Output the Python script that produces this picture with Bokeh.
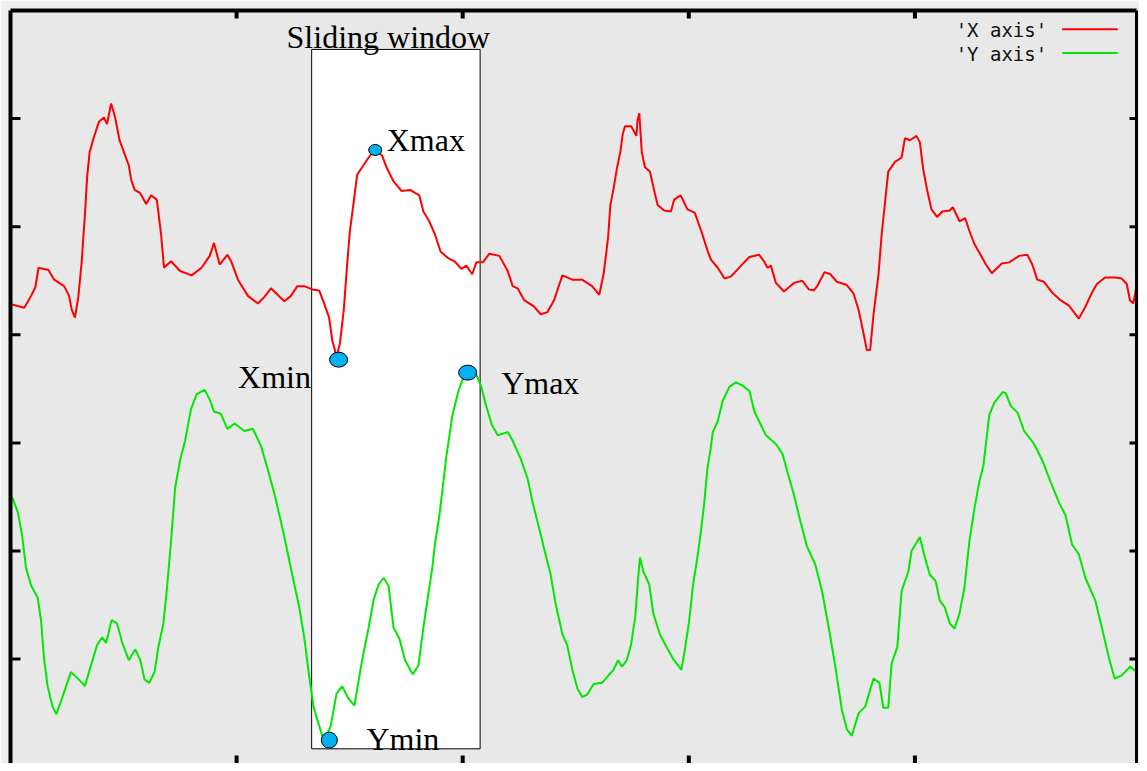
import math
from bokeh.plotting import figure
from bokeh.models import Range1d, LinearAxis, FixedTicker
from bokeh.core.properties import value
from bokeh.embed import file_html
from bokeh.resources import INLINE

# ---------------- data ----------------
x_axis_t = [0.7, 6.1, 9.1, 11.0, 12.4, 16.8, 19.3, 23.7, 25.9, 27.1,
            28.5, 30.0, 31.5, 32.9, 33.9, 35.0, 36.9, 39.1, 41.3, 42.7,
            44.5, 46.4, 48.2, 50.5, 52.3, 53.4, 54.9, 57.4, 60.0, 62.2,
            64.7, 66.6, 67.9, 71.0, 75.0, 80.1, 84.5, 88.1, 90.0, 92.5,
            95.9, 97.6, 100.6, 105.0, 109.4, 112.3, 115.2, 118.1, 121.1, 124.0,
            126.9, 129.9, 133.5, 136.5, 138.7, 140.9, 142.3, 144.2, 145.7, 147.4,
            148.9, 150.1, 151.8, 153.3, 155.5, 158.4, 161.3, 164.3, 166.5, 169.4,
            173.0, 176.7, 180.8, 182.6, 185.2, 187.7, 190.2, 193.5, 196.4, 199.4,
            201.6, 204.2, 206.0, 208.9, 211.8, 216.2, 219.9, 222.1, 224.3, 227.2,
            231.6, 234.5, 237.5, 240.4, 242.3, 244.1, 248.5, 252.8, 257.2, 260.4,
            262.3, 264.3, 265.3, 266.7, 268.2, 269.7, 270.8, 271.8, 274.5, 276.8,
            277.3, 278.1, 279.2, 280.6, 282.8, 284.3, 286.2, 289.1, 292.1, 293.5,
            296.4, 299.4, 302.6, 305.5, 308.4, 309.9, 312.8, 315.8, 318.7, 323.1,
            326.8, 331.1, 333.3, 334.8, 336.3, 338.5, 342.1, 346.5, 350.2, 353.1,
            355.3, 356.8, 360.0, 362.6, 365.5, 369.9, 372.9, 375.1, 377.3, 378.7,
            380.2, 381.7, 383.9, 385.3, 386.8, 388.2, 391.2, 394.1, 395.6, 397.8,
            400.7, 402.2, 403.6, 405.4, 407.3, 409.8, 412.1, 415.4, 416.8, 419.7,
            422.2, 424.1, 426.3, 428.5, 431.4, 434.0, 438.4, 441.7, 446.1, 449.7,
            451.9, 454.1, 457.1, 460.7, 464.4, 468.1, 472.5, 475.4, 478.3, 480.5,
            484.1, 488.5, 491.5, 493.7, 495.1, 496.6, 498.0]
x_axis_v = [4.28, 4.25, 4.36, 4.44, 4.62, 4.60, 4.51, 4.45, 4.36, 4.23,
            4.16, 4.35, 4.68, 5.11, 5.46, 5.69, 5.83, 5.97, 6.01, 5.95,
            6.14, 6.00, 5.80, 5.67, 5.57, 5.43, 5.34, 5.31, 5.21, 5.29,
            5.25, 4.93, 4.62, 4.68, 4.59, 4.55, 4.62, 4.73, 4.85, 4.65,
            4.74, 4.68, 4.51, 4.36, 4.29, 4.35, 4.43, 4.37, 4.31, 4.36,
            4.45, 4.45, 4.42, 4.41, 4.29, 4.16, 3.95, 3.80, 3.92, 4.23,
            4.65, 4.96, 5.23, 5.48, 5.55, 5.64, 5.72, 5.66, 5.54, 5.42,
            5.33, 5.34, 5.29, 5.14, 5.05, 4.93, 4.77, 4.71, 4.68, 4.61,
            4.64, 4.56, 4.67, 4.67, 4.75, 4.73, 4.59, 4.45, 4.43, 4.32,
            4.26, 4.19, 4.21, 4.32, 4.44, 4.55, 4.51, 4.51, 4.45, 4.37,
            4.56, 4.90, 5.20, 5.35, 5.54, 5.69, 5.86, 5.93, 5.93, 5.84,
            5.98, 6.05, 5.69, 5.55, 5.51, 5.37, 5.20, 5.15, 5.14, 5.25,
            5.29, 5.16, 5.13, 4.96, 4.77, 4.69, 4.62, 4.52, 4.54, 4.64,
            4.72, 4.74, 4.68, 4.62, 4.64, 4.48, 4.40, 4.48, 4.50, 4.42,
            4.41, 4.45, 4.58, 4.56, 4.49, 4.46, 4.38, 4.23, 4.01, 3.86,
            3.86, 4.19, 4.56, 4.93, 5.23, 5.51, 5.60, 5.64, 5.82, 5.80,
            5.84, 5.78, 5.54, 5.34, 5.16, 5.09, 5.14, 5.15, 5.18, 5.05,
            5.08, 4.96, 4.84, 4.76, 4.65, 4.57, 4.66, 4.67, 4.73, 4.74,
            4.65, 4.51, 4.49, 4.39, 4.32, 4.27, 4.15, 4.26, 4.39, 4.47,
            4.53, 4.53, 4.52, 4.47, 4.32, 4.29, 4.45]

y_axis_t = [0.7, 3.2, 5.1, 6.9, 9.1, 12.0, 13.5, 14.9, 16.4, 18.6,
            20.3, 23.0, 26.7, 30.3, 32.9, 35.0, 38.3, 40.5, 42.3, 44.7,
            47.1, 49.6, 52.3, 55.2, 57.4, 59.3, 61.4, 63.7, 65.4, 67.6,
            69.1, 71.0, 72.8, 75.0, 77.2, 79.8, 82.3, 85.9, 88.1, 90.0,
            93.0, 95.9, 99.1, 103.5, 107.2, 110.8, 113.7, 116.7, 120.3, 124.0,
            127.7, 129.9, 132.1, 134.0, 135.7, 137.9, 139.4, 141.6, 144.2, 146.7,
            149.3, 152.1, 155.5, 158.4, 160.6, 162.8, 165.0, 167.2, 169.4, 172.0,
            174.5, 177.9, 180.4, 182.6, 184.8, 186.7, 187.7, 189.7, 192.8, 195.4,
            198.1, 200.7, 202.5, 204.2, 206.0, 208.2, 210.4, 213.0, 215.5, 219.9,
            222.1, 225.7, 228.7, 230.9, 233.8, 235.9, 238.9, 241.1, 244.1, 246.2,
            248.5, 250.7, 252.8, 255.0, 257.9, 261.6, 264.5, 266.7, 268.7, 270.4,
            272.6, 274.5, 276.3, 277.7, 278.4, 279.9, 282.5, 284.3, 287.2, 290.2,
            293.1, 296.7, 298.2, 300.0, 301.9, 304.0, 305.5, 306.7, 308.2, 309.6,
            310.6, 312.8, 315.0, 318.0, 320.9, 323.8, 326.8, 329.0, 331.1, 334.1,
            338.5, 341.4, 343.6, 346.5, 349.4, 352.3, 356.0, 358.9, 361.9, 364.8,
            367.7, 369.9, 372.1, 375.1, 378.0, 381.7, 384.3, 386.0, 388.2, 389.7,
            392.2, 394.1, 397.1, 398.5, 402.2, 404.4, 406.6, 409.2, 411.0, 413.2,
            415.4, 417.5, 419.7, 421.9, 424.1, 426.3, 428.5, 430.3, 432.9, 435.1,
            438.8, 440.2, 442.4, 445.4, 448.3, 452.7, 456.3, 460.0, 463.7, 466.6,
            469.5, 472.5, 475.4, 479.8, 482.7, 485.7, 488.3, 491.5, 495.2, 498.1]
y_axis_v = [2.50, 2.36, 2.15, 1.84, 1.68, 1.57, 1.36, 0.99, 0.75, 0.56,
            0.49, 0.65, 0.88, 0.81, 0.75, 0.90, 1.13, 1.20, 1.15, 1.36,
            1.33, 1.14, 0.99, 1.09, 0.99, 0.81, 0.78, 0.88, 1.11, 1.33,
            1.63, 2.09, 2.58, 2.84, 3.02, 3.31, 3.45, 3.49, 3.40, 3.29,
            3.27, 3.13, 3.18, 3.11, 3.13, 2.97, 2.76, 2.53, 2.21, 1.84,
            1.48, 1.20, 0.84, 0.56, 0.44, 0.29, 0.27, 0.38, 0.68, 0.75,
            0.64, 0.57, 0.99, 1.29, 1.55, 1.69, 1.75, 1.68, 1.29, 1.19,
            0.99, 0.86, 0.94, 1.29, 1.60, 1.87, 2.06, 2.33, 2.88, 3.25,
            3.48, 3.63, 3.66, 3.67, 3.63, 3.52, 3.34, 3.16, 3.07, 3.10,
            3.02, 2.85, 2.67, 2.45, 2.21, 2.03, 1.78, 1.51, 1.23, 1.13,
            0.90, 0.73, 0.65, 0.67, 0.77, 0.78, 0.85, 0.90, 0.99, 0.93,
            0.99, 1.14, 1.39, 1.78, 1.94, 1.81, 1.69, 1.42, 1.23, 1.11,
            1.00, 0.90, 1.08, 1.33, 1.69, 1.97, 2.21, 2.42, 2.76, 2.94,
            3.10, 3.20, 3.39, 3.52, 3.56, 3.53, 3.48, 3.29, 3.20, 3.07,
            2.99, 2.90, 2.73, 2.52, 2.27, 2.04, 1.87, 1.63, 1.29, 0.93,
            0.53, 0.35, 0.29, 0.50, 0.56, 0.82, 0.78, 0.55, 0.55, 0.96,
            1.11, 1.63, 1.81, 2.00, 2.13, 1.94, 1.78, 1.72, 1.54, 1.48,
            1.33, 1.28, 1.42, 1.66, 2.09, 2.39, 2.64, 2.79, 3.26, 3.37,
            3.47, 3.46, 3.34, 3.28, 3.11, 2.99, 2.84, 2.64, 2.45, 2.33,
            2.06, 1.97, 1.75, 1.54, 1.29, 1.02, 0.82, 0.85, 0.93, 0.88]

# sliding window (sample range and vertical extent)
window_left, window_right = 133.2, 207.7
window_bottom, window_top = 0.17, 6.64
window_title = "Sliding window"
window_title_pos = (122.1, 6.755)

# extreme points inside the window
ext_names = ["Xmax", "Xmin", "Ymax", "Ymin"]
ext_x = [161.3, 145.1, 202.2, 141.0]
ext_y = [5.71, 3.77, 3.65, 0.25]
ext_w = [13, 18, 18, 16]
ext_h = [11, 15, 15, 16]
lab_x = [166.4, 132.9, 217.0, 157.4]
lab_y = [5.80, 3.61, 3.55, 0.265]
lab_align = ["left", "right", "left", "left"]

legend_labels = ["'X axis'", "'Y axis'"]
legend_colors = ["#ff0000", "#00e800"]

x_ticks = [100, 200, 300, 400]
y_ticks = [1, 2, 3, 4, 5, 6]

X_MIN, X_MAX = 0.0, 498.0
Y_MIN, Y_MAX = 0.034, 7.0

assert len(x_axis_t) == len(x_axis_v)
assert len(y_axis_t) == len(y_axis_v)

# ---------------- figure ----------------
p = figure(width=1139, height=763, output_backend="svg", toolbar_location=None,
           x_range=Range1d(X_MIN, X_MAX), y_range=Range1d(Y_MIN, Y_MAX),
           x_axis_location=None, y_axis_location=None,
           min_border_left=10, min_border_right=3, min_border_top=10, min_border_bottom=0,
           background_fill_color="#e8e8e8", border_fill_color="#f0f0f0")
p.outline_line_color = None
for g in p.xgrid + p.ygrid:
    g.visible = False


def frame_line(line_w):
    return LinearAxis(ticker=FixedTicker(ticks=[]), major_tick_in=0, major_tick_out=0,
                      minor_tick_line_color=None, major_label_standoff=0,
                      axis_line_width=line_w, axis_line_color="black")


p.add_layout(frame_line(4), "left")
p.add_layout(frame_line(3), "right")
p.add_layout(frame_line(4), "above")

# tick marks on the frame (centred on the edge, half hidden by the frame clip)
p.scatter(x=[X_MIN] * len(y_ticks), y=y_ticks, marker="dash", size=20, line_width=3, line_color="black")
p.scatter(x=[X_MAX] * len(y_ticks), y=y_ticks, marker="dash", size=14, line_width=3, line_color="black")
p.scatter(x=x_ticks, y=[Y_MAX] * len(x_ticks), marker="dash", size=16, angle=math.pi / 2,
          line_width=4, line_color="black")
p.scatter(x=x_ticks, y=[Y_MIN] * len(x_ticks), marker="dash", size=16, angle=math.pi / 2,
          line_width=4, line_color="black")

# window box
p.quad(left=[window_left], right=[window_right], bottom=[window_bottom], top=[window_top],
       fill_color="white", line_color="black", line_width=1)

# series
p.line(x_axis_t, x_axis_v, line_color=legend_colors[0], line_width=2)
p.line(y_axis_t, y_axis_v, line_color=legend_colors[1], line_width=2)

# extreme markers
p.ellipse(x=ext_x, y=ext_y, width=ext_w, height=ext_h, width_units="screen", height_units="screen",
          fill_color="#00b0f0", line_color="black", line_width=1)

serif = value("Liberation Serif")
p.text(x=[window_title_pos[0]], y=[window_title_pos[1]], text=[window_title], text_font=serif,
       text_font_size="32px", text_color="black", text_baseline="alphabetic", text_align="left")
p.text(x=lab_x, y=lab_y, text=ext_names, text_font=serif, text_font_size="32px",
       text_color="black", text_baseline="alphabetic", text_align=lab_align)

# legend (gnuplot style: label then sample line)
leg_text_x = 458.5
leg_y_text = [6.82, 6.60]
leg_y_line = [6.826, 6.606]
p.text(x=[leg_text_x] * 2, y=leg_y_text, text=legend_labels, text_font=value("DejaVu Sans Mono"),
       text_font_size="19px", text_color="#111111", text_baseline="alphabetic", text_align="right")
for yl, c in zip(leg_y_line, legend_colors):
    p.line([465.1, 489.7], [yl, yl], line_color=c, line_width=2)

open("out.html", "w").write(file_html(p, INLINE))
